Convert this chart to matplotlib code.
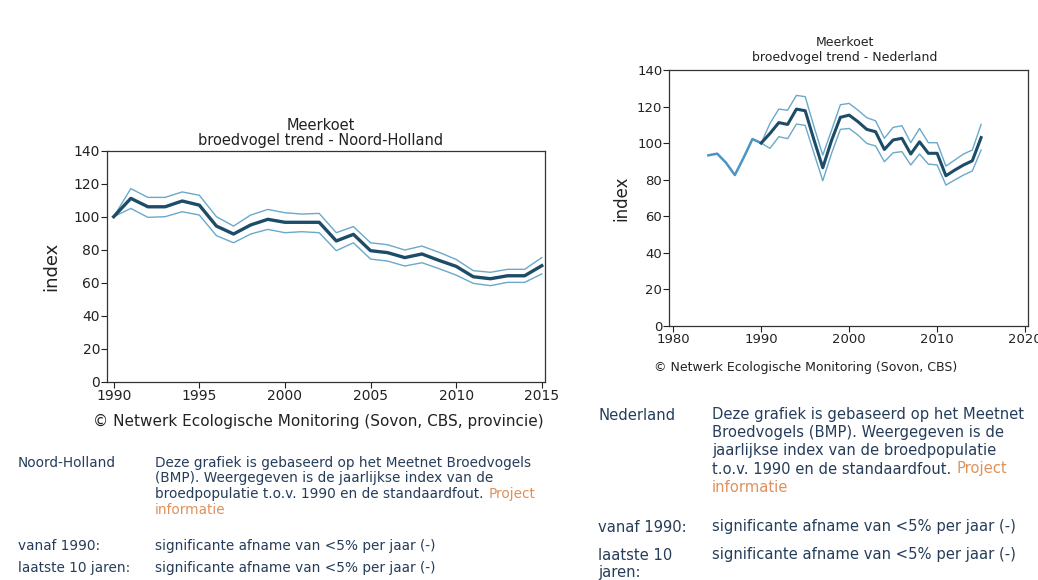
import matplotlib
matplotlib.use("Agg")
import matplotlib.pyplot as plt

# ---------------- data ----------------
nh_years = list(range(1990, 2016))
nh_index = [100, 111.1, 106, 106, 109.5, 107, 94.3, 89.5, 95, 98.4, 96.6, 96.6, 96.6,
            85.3, 89.3, 79.4, 78.2, 75.2, 77.4, 73.5, 69.9, 63.6, 62.4, 64.2, 64.2, 70.3]
nh_upper = [100, 117, 111.7, 111.7, 115, 113, 100, 94.3, 101, 104.4, 102.4, 101.6, 102,
            90.3, 94, 84.2, 83, 79.8, 82.2, 78.4, 74.1, 67.3, 66.3, 68.1, 68.1, 75.2]
nh_lower = [100, 105, 99.6, 100, 103, 101, 88.5, 84.2, 89.5, 92.3, 90.3, 90.9, 90.3,
            79.4, 84.2, 74.3, 73.1, 70.1, 72.1, 68.5, 64.6, 59.6, 58.2, 60.2, 60.2, 65.3]

nl_early_years = [1984, 1985, 1986, 1987, 1988, 1989, 1990]
nl_early_index = [93.3, 94.2, 89.2, 82.5, 92, 102.2, 100]

nl_years = list(range(1990, 2016))
nl_index = [100, 105.3, 111.2, 110.2, 118.6, 117.7, 101.7, 86.5, 101.5, 114.1, 115.3,
            111.7, 107.5, 106.2, 96.5, 101.7, 102.6, 94, 100.7, 94.4, 94.4, 82.1, 85.2,
            88, 90.3, 103]
nl_upper = [100, 110.8, 118.6, 118, 126.1, 125.4, 109, 93.4, 107, 121, 121.7, 118,
            113.9, 112.2, 102.6, 108.6, 109.5, 100.2, 108, 100.2, 100.2, 87.4, 90.7,
            94, 96.2, 110.2]
nl_lower = [100, 97.1, 103.5, 102.4, 110.4, 109.7, 94.4, 79.4, 94.4, 107.5, 108, 104.4,
            99.8, 98.4, 89.8, 94.7, 95.3, 88, 94, 88.5, 88, 77, 79.8, 82.5, 84.7, 96.2]

nh_xticks = [1990, 1995, 2000, 2005, 2010, 2015]
nl_xticks = [1980, 1990, 2000, 2010, 2020]
yticks = [0, 20, 40, 60, 80, 100, 120, 140]

# ---------------- styling ----------------
MAIN = "#1d4c68"
CI = "#6aa9c9"
EARLY = "#4a95c4"
TXT = "#253d5a"
ORANGE = "#e0905a"
plt.rcParams["font.family"] = "DejaVu Sans"

fig = plt.figure(figsize=(10.38, 5.8), dpi=100)
fig.patch.set_facecolor("white")


def style_axes(ax, xticks, xlim, tsize, lsize, lpad):
    ax.set_xlim(*xlim)
    ax.set_ylim(0, 140)
    ax.set_xticks(xticks)
    ax.set_yticks(yticks)
    ax.tick_params(axis="both", direction="out", length=4, width=0.8,
                   labelsize=tsize, colors="#222222", pad=1)
    for s in ax.spines.values():
        s.set_linewidth(0.9)
        s.set_color("#333333")
    ax.set_ylabel("index", fontsize=lsize, color="#222222", labelpad=lpad)


# Left chart: Noord-Holland
ax1 = fig.add_axes([0.1031, 0.3419, 0.4223, 0.3983])
ax1.plot(nh_years, nh_upper, color=CI, lw=1.0)
ax1.plot(nh_years, nh_lower, color=CI, lw=1.0)
ax1.plot(nh_years, nh_index, color=MAIN, lw=2.4)
style_axes(ax1, nh_xticks, (1989.61, 2015.21), 10, 13, 10)
fig.text(321 / 1038, 1 - 126 / 580, "Meerkoet", ha="center", va="center", fontsize=10.5, color="#222222")
fig.text(321 / 1038, 1 - 141 / 580, "broedvogel trend - Noord-Holland", ha="center", va="center",
         fontsize=10.5, color="#222222")
fig.text(318 / 1038, 1 - 421.5 / 580,
         "\u00a9 Netwerk Ecologische Monitoring (Sovon, CBS, provincie)",
         ha="center", va="center", fontsize=11, color="#222222")

# Right chart: Nederland
ax2 = fig.add_axes([0.6448, 0.4384, 0.3453, 0.4409])
ax2.plot(nl_early_years, nl_early_index, color=EARLY, lw=1.8)
ax2.plot(nl_years, nl_upper, color=CI, lw=1.0)
ax2.plot(nl_years, nl_lower, color=CI, lw=1.0)
ax2.plot(nl_years, nl_index, color=MAIN, lw=2.2)
style_axes(ax2, nl_xticks, (1979.55, 2020.3), 9.5, 12, 5)
fig.text(845 / 1038, 1 - 42 / 580, "Meerkoet", ha="center", va="center", fontsize=9, color="#222222")
fig.text(845 / 1038, 1 - 58 / 580, "broedvogel trend - Nederland", ha="center", va="center",
         fontsize=9, color="#222222")
fig.text(806 / 1038, 1 - 367 / 580, "\u00a9 Netwerk Ecologische Monitoring (Sovon, CBS)",
         ha="center", va="center", fontsize=9, color="#222222")


def t(x, y, s, color=TXT, size=9.8):
    return fig.text(x / 1038, 1 - y / 580, s, ha="left", va="center", fontsize=size, color=color)


def follow(prev, s, color, size):
    ax1.annotate(s, xy=(1, 0.5), xycoords=prev, xytext=(size * 0.35, 0),
                 textcoords="offset points", ha="left", va="center",
                 fontsize=size, color=color)


# Bottom-left text block
s1 = 9.8
t(18, 463, "Noord-Holland", size=s1)
t(155, 463, "Deze grafiek is gebaseerd op het Meetnet Broedvogels", size=s1)
t(155, 478, "(BMP). Weergegeven is de jaarlijkse index van de", size=s1)
p1 = t(155, 494, "broedpopulatie t.o.v. 1990 en de standaardfout.", size=s1)
follow(p1, "Project", ORANGE, s1)
t(155, 510, "informatie", color=ORANGE, size=s1)
t(18, 546, "vanaf 1990:", size=s1)
t(155, 546, "significante afname van <5% per jaar (-)", size=s1)
t(18, 568, "laatste 10 jaren:", size=s1)
t(155, 568, "significante afname van <5% per jaar (-)", size=s1)

# Bottom-right text block
s2 = 10.6
t(598, 415, "Nederland", size=s2)
t(712, 415, "Deze grafiek is gebaseerd op het Meetnet", size=s2)
t(712, 433, "Broedvogels (BMP). Weergegeven is de", size=s2)
t(712, 451, "jaarlijkse index van de broedpopulatie", size=s2)
p2 = t(712, 469, "t.o.v. 1990 en de standaardfout.", size=s2)
follow(p2, "Project", ORANGE, s2)
t(712, 487, "informatie", color=ORANGE, size=s2)
t(598, 527, "vanaf 1990:", size=s2)
t(712, 527, "significante afname van <5% per jaar (-)", size=s2)
t(598, 555, "laatste 10", size=s2)
t(598, 573, "jaren:", size=s2)
t(712, 555, "significante afname van <5% per jaar (-)", size=s2)

fig.savefig("out.png", dpi=100, facecolor="white")
